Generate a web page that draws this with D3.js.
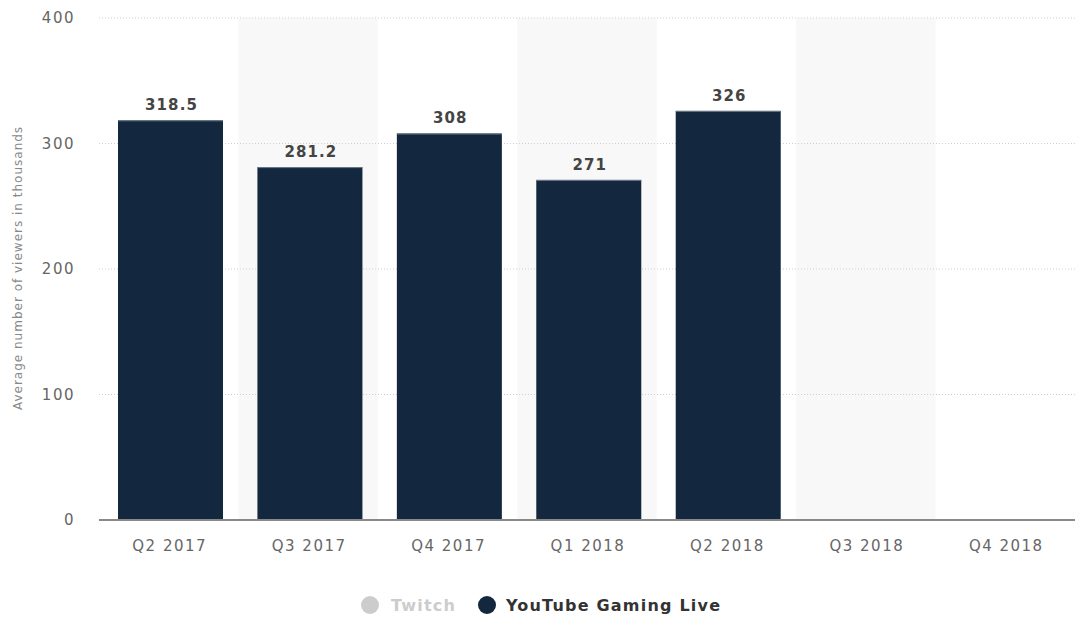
<!DOCTYPE html>
<html lang="en">
<head>
<meta charset="UTF-8">
<title>Average viewers</title>
<script src="https://cdn.jsdelivr.net/npm/d3@7/dist/d3.min.js"></script>
<style>
  body { margin: 0; background: #fff; }
  svg text { font-family: "DejaVu Sans", sans-serif; }
</style>
</head>
<body>
<div id="chart"></div>
<script>
const categories = ['Q2 2017', 'Q3 2017', 'Q4 2017', 'Q1 2018', 'Q2 2018', 'Q3 2018', 'Q4 2018'];
const youtubeValues = [318.5, 281.2, 308, 271, 326, null, null];
const valueLabels = ['318.5', '281.2', '308', '271', '326', '', ''];
const yTicks = [0, 100, 200, 300, 400];
const seriesNames = ['Twitch', 'YouTube Gaming Live'];

const width = 1076, height = 617;
const padding = {left: 99, right: 1, top: 18, bottom: 97};

const svg = d3.select('#chart').append('svg')
    .attr('width', width)
    .attr('height', height);

const xScale = d3.scaleBand()
    .domain(categories)
    .range([padding.left, width - padding.right])
    .paddingInner(0)
    .paddingOuter(0);
const yScale = d3.scaleLinear()
    .domain([0, 400])
    .range([height - padding.bottom, padding.top]);

// alternating band shading
svg.selectAll('.band')
    .data(categories.filter((d, i) => i % 2 == 1))
    .enter().append('rect')
    .attr('x', d => xScale(d))
    .attr('y', yScale(400))
    .attr('width', xScale.bandwidth())
    .attr('height', yScale(0) - yScale(400))
    .attr('fill', '#f8f8f8');

// grid lines
svg.selectAll('.grid')
    .data(yTicks.filter(d => d > 0))
    .enter().append('line')
    .attr('x1', padding.left)
    .attr('x2', width - padding.right)
    .attr('y1', d => yScale(d))
    .attr('y2', d => yScale(d))
    .attr('stroke', '#cfcfcf')
    .attr('stroke-width', 1)
    .attr('stroke-dasharray', '1,2');

// y tick labels
svg.selectAll('.ytick')
    .data(yTicks)
    .enter().append('text')
    .attr('x', 75)
    .attr('y', d => yScale(d) + 5)
    .attr('text-anchor', 'end')
    .attr('font-size', 15)
    .attr('letter-spacing', 1.5)
    .attr('fill', '#666')
    .text(d => d);

// bars
const barPad = 19;
const barWidth = 105;
const bars = categories.map((c, i) => ({c: c, v: youtubeValues[i], label: valueLabels[i]}))
    .filter(d => d.v != null);

svg.selectAll('.bar')
    .data(bars)
    .enter().append('rect')
    .attr('x', d => xScale(d.c) + barPad)
    .attr('y', d => yScale(d.v))
    .attr('width', barWidth)
    .attr('height', d => yScale(0) - yScale(d.v))
    .attr('fill', '#13273e');

svg.selectAll('.bartop')
    .data(bars)
    .enter().append('line')
    .attr('x1', d => xScale(d.c) + barPad)
    .attr('x2', d => xScale(d.c) + barPad + barWidth)
    .attr('y1', d => yScale(d.v) + 0.5)
    .attr('y2', d => yScale(d.v) + 0.5)
    .attr('stroke', '#6f7d8c')
    .attr('stroke-width', 1);

svg.selectAll('.barlabel')
    .data(bars)
    .enter().append('text')
    .attr('x', d => xScale(d.c) + barPad + barWidth / 2 + 1)
    .attr('y', d => yScale(d.v) - 10)
    .attr('text-anchor', 'middle')
    .attr('font-size', 15)
    .attr('font-weight', 'bold')
    .attr('letter-spacing', 1.1)
    .attr('fill', '#444')
    .text(d => d.label);

// x axis line
svg.append('line')
    .attr('x1', padding.left)
    .attr('x2', width - padding.right)
    .attr('y1', yScale(0))
    .attr('y2', yScale(0))
    .attr('stroke', '#888')
    .attr('stroke-width', 2);

// x labels
svg.selectAll('.xtick')
    .data(categories)
    .enter().append('text')
    .attr('x', d => xScale(d) + xScale.bandwidth() / 2 + 1)
    .attr('y', yScale(0) + 31)
    .attr('text-anchor', 'middle')
    .attr('font-size', 15)
    .attr('letter-spacing', 1.5)
    .attr('fill', '#666')
    .text(d => d);

// y axis title
svg.append('text')
    .attr('transform', 'translate(22,' + (yScale(200) - 1) + ') rotate(-90)')
    .attr('text-anchor', 'middle')
    .attr('font-size', 12)
    .attr('letter-spacing', 1)
    .attr('fill', '#888')
    .text('Average number of viewers in thousands');

// legend
const legend = [
    {name: seriesNames[0], cx: 370, tx: 391, color: '#cccccc', text: '#cccccc'},
    {name: seriesNames[1], cx: 487, tx: 506, color: '#13273e', text: '#333'}
];
legend.forEach(l => {
    svg.append('circle')
        .attr('cx', l.cx)
        .attr('cy', 605)
        .attr('r', 9)
        .attr('fill', l.color);
    svg.append('text')
        .attr('x', l.tx)
        .attr('y', 611)
        .attr('font-size', 16)
        .attr('font-weight', 'bold')
        .attr('letter-spacing', 1.2)
        .attr('fill', l.text)
        .text(l.name);
});
</script>
</body>
</html>
